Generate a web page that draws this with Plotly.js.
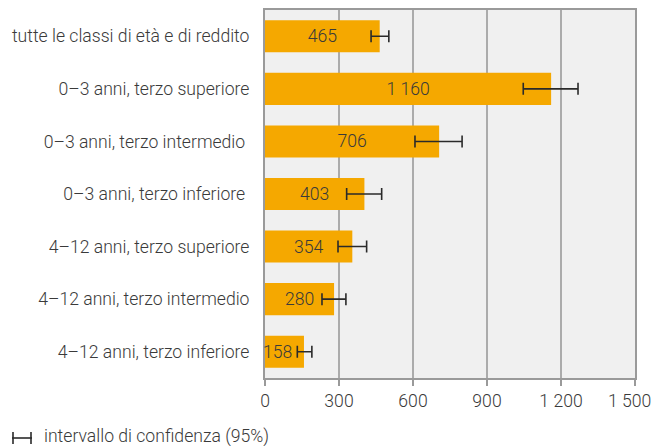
<!DOCTYPE html>
<html><head><meta charset="utf-8">
<script src="https://cdn.plot.ly/plotly-3.0.1.min.js"></script>
<style>html,body{margin:0;padding:0;background:#fff}#c{width:654px;height:446px}</style>
</head><body><div id="c"></div>
<script>
const categories = [
  "tutte le classi di età e di reddito",
  "0–3 anni, terzo superiore",
  "0–3 anni, terzo intermedio\u00a0",
  "0–3 anni, terzo inferiore\u00a0",
  "4–12 anni, terzo superiore",
  "4–12 anni, terzo intermedio",
  "4–12 anni, terzo inferiore"
];
const values = [465, 1160, 706, 403, 354, 280, 158];
const errPlus = [37, 109, 93, 70, 58, 48, 32];
const errMinus = [35, 113, 98, 72, 58, 49, 27];
const xTicks = [0, 300, 600, 900, 1200, 1500];
const xTickLabels = ["0", "300", "600", "900", "1 200", "1 500"];
const legendText = "intervallo di confidenza (95%)";

const fmt = v => String(v).replace(/\B(?=(\d{3})+(?!\d))/g, " ");
const FONT = "Roboto, sans-serif";
const TXT = "#3a3a3a";
const FS = 17.6;
const last = values.length - 1;
const lastTick = xTicks.length - 1;

const trace = {
  type: "bar", orientation: "h",
  x: values, y: categories,
  marker: {color: "#f5a800", line: {width: 0}},
  text: values.map((v, i) => i === last ? "" : fmt(v)),
  textposition: "inside",
  insidetextanchor: "middle",
  constraintext: "none",
  textfont: {family: FONT, size: FS, color: TXT, weight: 300},
  error_x: {type: "data", symmetric: false, array: errPlus, arrayminus: errMinus,
            color: "#2a2a2a", thickness: 1.6, width: 6},
  hoverinfo: "none"
};

const layout = {
  width: 654, height: 446,
  margin: {l: 265, r: 19, t: 10, b: 68},
  paper_bgcolor: "#ffffff", plot_bgcolor: "#f0f0f0",
  bargap: 0.39,
  showlegend: false,
  font: {family: FONT, size: FS, color: TXT, weight: 300},
  xaxis: {
    range: [0, 1500], tickvals: xTicks,
    ticktext: xTickLabels.map((t, i) => i === lastTick ? "" : t),
    showgrid: true, gridcolor: "#ababab", gridwidth: 1.5,
    zeroline: false, showline: true, linecolor: "#9a9a9a", linewidth: 2, mirror: true,
    ticks: "outside", ticklen: 6, tickcolor: "#9a9a9a", tickwidth: 1.5,
    tickfont: {family: FONT, size: FS, color: TXT, weight: 300},
    fixedrange: true
  },
  yaxis: {
    autorange: "reversed", type: "category",
    showgrid: false, zeroline: false, showline: true, linecolor: "#9a9a9a", linewidth: 2, mirror: true,
    ticks: "", ticklabelstandoff: 10,
    tickfont: {family: FONT, size: FS, color: TXT, weight: 300},
    fixedrange: true
  },
  shapes: [
    {type: "line", xref: "paper", yref: "paper", x0: -265/370 + 12/370, x1: -265/370 + 32/370,
     y0: -60/368, y1: -60/368, line: {color: "#2a2a2a", width: 1.6}},
    {type: "line", xref: "paper", yref: "paper", x0: -265/370 + 13/370, x1: -265/370 + 13/370,
     y0: -54/368, y1: -66/368, line: {color: "#2a2a2a", width: 1.6}},
    {type: "line", xref: "paper", yref: "paper", x0: -265/370 + 31/370, x1: -265/370 + 31/370,
     y0: -54/368, y1: -66/368, line: {color: "#2a2a2a", width: 1.6}}
  ],
  annotations: [
    {text: legendText, xref: "paper", yref: "paper", x: -265/370 + 43/370, y: -58/368,
     xanchor: "left", yanchor: "middle", showarrow: false, borderpad: 0,
     font: {family: FONT, size: FS, color: TXT, weight: 300}},
    {text: fmt(values[last]), xref: "x", yref: "y", x: 0, y: categories[last],
     xanchor: "left", yanchor: "middle", showarrow: false, borderpad: 0, xshift: -3,
     font: {family: FONT, size: FS, color: TXT, weight: 300}},
    {text: xTickLabels[lastTick], xref: "x", yref: "paper", x: xTicks[lastTick], y: 0,
     xanchor: "right", yanchor: "middle", showarrow: false, borderpad: 0,
     xshift: 17, yshift: -23,
     font: {family: FONT, size: FS, color: TXT, weight: 300}}
  ]
};

Plotly.newPlot("c", [trace], layout, {displayModeBar: false, staticPlot: true});
</script></body></html>
